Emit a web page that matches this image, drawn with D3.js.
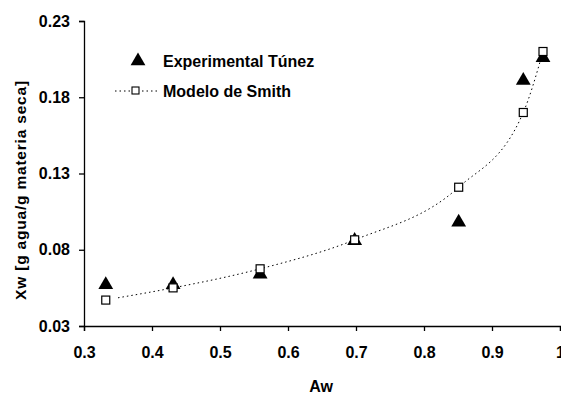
<!DOCTYPE html>
<html>
<head>
<meta charset="utf-8">
<script src="https://cdn.jsdelivr.net/npm/d3@7"></script>
<style>
  body { margin: 0; background: #fff; }
  svg text { font-family: "Liberation Sans", Arial, sans-serif; font-weight: bold; fill: #000; }
</style>
</head>
<body>
<figure id="chart" style="margin:0"></figure>
<script>
// data
const awExp = [0.332, 0.431, 0.559, 0.698, 0.851, 0.946, 0.975];
const xwExp = [0.057, 0.057, 0.064, 0.086, 0.098, 0.191, 0.206];
const awSmith = [0.332, 0.431, 0.559, 0.698, 0.851, 0.946, 0.975];
const xwSmith = [0.047, 0.055, 0.0675, 0.0865, 0.121, 0.170, 0.210];
// dotted fit curve through the model points
const awCurve = [0.35, 0.431, 0.559, 0.698, 0.851, 0.946, 0.975];
const xwCurve = [0.0485, 0.055, 0.0675, 0.0865, 0.121, 0.170, 0.210];
const xTicks = [0.3, 0.4, 0.5, 0.6, 0.7, 0.8, 0.9, 1];
const yTicks = [0.03, 0.08, 0.13, 0.18, 0.23];
const legendLabels = ['Experimental Túnez', 'Modelo de Smith'];

const width = 561, height = 394;
const mLeft = 84, mRight = 560, mTop = 21, mBottom = 326;

const svg = d3.select('figure#chart')
  .append('svg')
  .attr('width', width)
  .attr('height', height);

const x = d3.scaleLinear().domain([0.3, 1]).range([mLeft, mRight]);
const y = d3.scaleLinear().domain([0.03, 0.23]).range([mBottom, mTop]);

// axes
const xAxis = svg.append('g')
  .attr('transform', 'translate(0,' + mBottom + ')')
  .call(d3.axisBottom(x).tickValues(xTicks).tickSize(5).tickPadding(16)
    .tickFormat(d => d === 1 ? '1' : d3.format('.1f')(d)));
const yAxis = svg.append('g')
  .attr('transform', 'translate(' + mLeft + ',0)')
  .call(d3.axisLeft(y).tickValues(yTicks).tickSize(5).tickPadding(9)
    .tickFormat(d3.format('.2f')));

[xAxis, yAxis].forEach(g => {
  g.select('.domain').attr('stroke', '#000').attr('stroke-width', 1.3);
  g.selectAll('.tick line').attr('stroke', '#000').attr('stroke-width', 1.3);
  g.selectAll('.tick text')
    .style('font-family', '"Liberation Sans", Arial, sans-serif')
    .style('font-weight', 'bold')
    .style('font-size', '16px')
    .attr('fill', '#000');
});

// axis titles
svg.append('text')
  .attr('x', 321).attr('y', 392)
  .attr('text-anchor', 'middle')
  .style('font-size', '16px')
  .text('Aw');
svg.append('text')
  .attr('transform', 'translate(26,190) rotate(-90)')
  .attr('text-anchor', 'middle')
  .style('font-size', '15.5px')
  .style('letter-spacing', '0.8px')
  .text('Xw [g agua/g materia seca]');

// dotted model curve
const curve = awCurve.map((a, i) => [a, xwCurve[i]]);
svg.append('path')
  .datum(curve)
  .attr('fill', 'none')
  .attr('stroke', '#000')
  .attr('stroke-width', 1)
  .attr('stroke-dasharray', '1.5,3')
  .attr('d', d3.line().x(d => x(d[0])).y(d => y(d[1])).curve(d3.curveMonotoneX));

const tri = d3.symbol().type(d3.symbolTriangle).size(95);

// experimental triangles
svg.append('g').selectAll('path')
  .data(awExp.map((a, i) => [a, xwExp[i]]))
  .enter()
  .append('path')
  .attr('d', tri)
  .attr('transform', d => 'translate(' + x(d[0]) + ',' + y(d[1]) + ')')
  .attr('fill', '#000');

// model squares
svg.append('g').selectAll('rect')
  .data(awSmith.map((a, i) => [a, xwSmith[i]]))
  .enter()
  .append('rect')
  .attr('x', d => x(d[0]) - 4)
  .attr('y', d => y(d[1]) - 4)
  .attr('width', 8)
  .attr('height', 8)
  .attr('fill', '#fff')
  .attr('stroke', '#000')
  .attr('stroke-width', 1.2);

// legend
const legend = svg.append('g');
legend.append('path')
  .attr('d', tri)
  .attr('transform', 'translate(138,61)')
  .attr('fill', '#000');
legend.append('line')
  .attr('x1', 115).attr('x2', 159).attr('y1', 91).attr('y2', 91)
  .attr('stroke', '#000').attr('stroke-dasharray', '1.5,3');
legend.append('rect')
  .attr('x', 132).attr('y', 87).attr('width', 7).attr('height', 7)
  .attr('fill', '#fff').attr('stroke', '#000').attr('stroke-width', 1.1);
legend.selectAll('text.lbl')
  .data(legendLabels)
  .enter()
  .append('text')
  .attr('class', 'lbl')
  .attr('x', 163)
  .attr('y', (d, i) => 67 + i * 30)
  .style('font-size', '16px')
  .text(d => d);
</script>
</body>
</html>
